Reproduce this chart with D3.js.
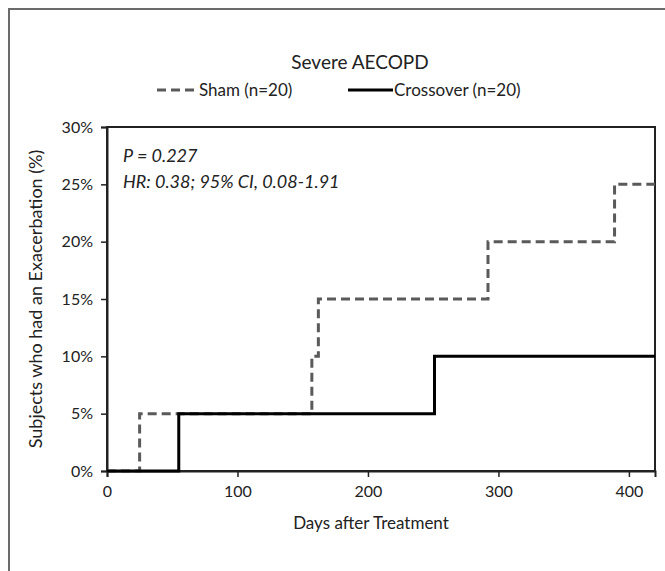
<!DOCTYPE html>
<html>
<head>
<meta charset="utf-8">
<script src="https://cdn.jsdelivr.net/npm/d3@7"></script>
<style>
  body { margin: 0; background: #fff; }
  svg { display: block; font-family: Lato, "Open Sans", sans-serif; }
</style>
</head>
<body>
<svg id="chart" width="665" height="571"></svg>
<script>
// step times (days) and cumulative % with an exacerbation
const shamDays = [0, 25, 157, 162, 292, 389, 420];
const shamPct = [0, 5, 10, 15, 20, 25, 25];
const crossDays = [0, 55, 251, 420];
const crossPct = [0, 5, 10, 10];
const xTicks = [0, 100, 200, 300, 400];
const yTicks = [0, 5, 10, 15, 20, 25, 30];

const svg = d3.select('#chart');
const m = {left: 107, right: 10, top: 127, bottom: 100};
const W = 665, H = 571;

const x = d3.scaleLinear().domain([0, 420]).range([m.left, W - m.right]);
const y = d3.scaleLinear().domain([0, 30]).range([H - m.bottom, m.top]);

// outer frame (only top/left show in the picture)
svg.append('path')
  .attr('d', `M9,${H} V9 H${W}`)
  .attr('fill', 'none').attr('stroke', '#6b6b6b').attr('stroke-width', 2);

// plot box
svg.append('rect')
  .attr('x', x(0)).attr('y', y(30))
  .attr('width', x(420) - x(0)).attr('height', y(0) - y(30))
  .attr('fill', 'none').attr('stroke', '#222').attr('stroke-width', 2);

const xAxis = svg.append('g')
  .attr('transform', `translate(0,${y(0)})`)
  .call(d3.axisBottom(x).tickValues(xTicks).tickSize(6).tickPadding(9));
const yAxis = svg.append('g')
  .attr('transform', `translate(${x(0)},0)`)
  .call(d3.axisLeft(y).tickValues(yTicks).tickSize(6).tickPadding(8).tickFormat(d => d + '%'));
[xAxis, yAxis].forEach(a => {
  a.select('.domain').attr('stroke', '#222').attr('stroke-width', 2);
  a.selectAll('.tick line').attr('stroke', '#222').attr('stroke-width', 1.5);
  a.selectAll('text').attr('font-size', 16).attr('fill', '#222')
    .attr('font-family', 'Lato, "Open Sans", sans-serif');
});

const line = d3.line().curve(d3.curveStepAfter).x(d => x(d[0])).y(d => y(d[1]));

svg.append('path')
  .datum(shamDays.map((d, i) => [d, shamPct[i]]))
  .attr('d', line)
  .attr('fill', 'none').attr('stroke', '#5a5a5a').attr('stroke-width', 3)
  .attr('stroke-dasharray', '9,5');

svg.append('path')
  .datum(crossDays.map((d, i) => [d, crossPct[i]]))
  .attr('d', line)
  .attr('fill', 'none').attr('stroke', '#000').attr('stroke-width', 3);

// title
svg.append('text').attr('x', 360).attr('y', 69).attr('text-anchor', 'middle')
  .attr('font-size', 19).attr('fill', '#222').text('Severe AECOPD');

// legend
const lg = svg.append('g').attr('transform', 'translate(0,90)');
lg.append('line').attr('x1', 157).attr('x2', 196).attr('y1', 0).attr('y2', 0)
  .attr('stroke', '#5a5a5a').attr('stroke-width', 3).attr('stroke-dasharray', '9,5');
lg.append('text').attr('x', 199).attr('y', 6).attr('font-size', 17).attr('fill', '#222').text('Sham (n=20)');
lg.append('line').attr('x1', 348).attr('x2', 393).attr('y1', 0).attr('y2', 0)
  .attr('stroke', '#000').attr('stroke-width', 3);
lg.append('text').attr('x', 394).attr('y', 6).attr('font-size', 17).attr('fill', '#222').text('Crossover (n=20)');

// annotation
svg.append('text').attr('x', 123).attr('y', 162).attr('font-size', 18).attr('font-style', 'italic')
  .attr('fill', '#222').text('P = 0.227');
svg.append('text').attr('x', 123).attr('y', 188).attr('font-size', 18).attr('font-style', 'italic')
  .attr('fill', '#222').text('HR: 0.38; 95% CI, 0.08-1.91');

// axis titles
svg.append('text').attr('x', (x(0) + x(420)) / 2 - 10).attr('y', 529).attr('text-anchor', 'middle')
  .attr('font-size', 17).attr('fill', '#222').text('Days after Treatment');
svg.append('text')
  .attr('transform', `translate(42,${(y(0) + y(30)) / 2}) rotate(-90)`)
  .attr('text-anchor', 'middle').attr('font-size', 18).attr('fill', '#222')
  .text('Subjects who had an Exacerbation (%)');
</script>
</body>
</html>
